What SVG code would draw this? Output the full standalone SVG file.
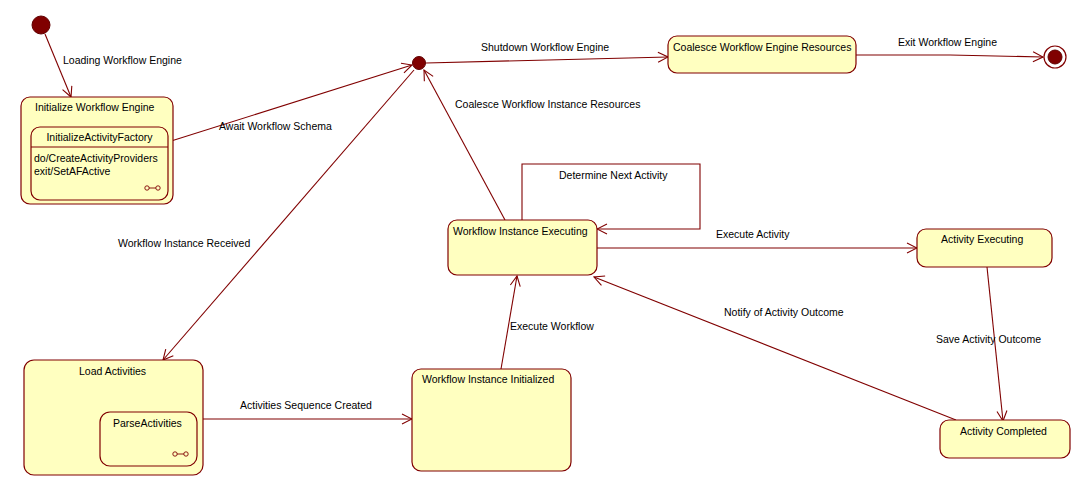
<svg xmlns="http://www.w3.org/2000/svg" width="1091" height="496" viewBox="0 0 1091 496">
<style>
.st{fill:#ffffc0;stroke:#800000;stroke-width:1.2}
.ln{fill:none;stroke:#800000;stroke-width:1.1}
.t{font-family:"Liberation Sans",Arial,sans-serif;font-size:10.5px;fill:#000}
.dot{fill:#800000;stroke:#600000;stroke-width:1}
</style>
<defs>
<marker id="a" markerWidth="12" markerHeight="12" refX="11" refY="6" orient="auto" markerUnits="userSpaceOnUse">
<path d="M1,1 L11,6 L1,11" fill="none" stroke="#800000" stroke-width="1.1"/>
</marker>
</defs>
<rect width="1091" height="496" fill="#fff"/>
<g id="connectors">
<line class="ln" x1="45" y1="34" x2="71" y2="97" marker-end="url(#a)"/>
<text class="t" x="63" y="64">Loading Workflow Engine</text>
<line class="ln" x1="168" y1="142" x2="412" y2="65" marker-end="url(#a)"/>
<text class="t" x="219" y="130">Await Workflow Schema</text>
<line class="ln" x1="426" y1="63" x2="668" y2="57" marker-end="url(#a)"/>
<text class="t" x="481" y="51">Shutdown Workflow Engine</text>
<polyline class="ln" points="856,55 950,55 1043,57" marker-end="url(#a)"/>
<text class="t" x="898" y="46">Exit Workflow Engine</text>
<line class="ln" x1="505" y1="220" x2="424" y2="70" marker-end="url(#a)"/>
<text class="t" x="455" y="108">Coalesce Workflow Instance Resources</text>
<line class="ln" x1="414" y1="70" x2="163" y2="360" marker-end="url(#a)"/>
<text class="t" x="118" y="247">Workflow Instance Received</text>
<polyline class="ln" points="522,220 522,164 700,164 700,229 597,229" marker-end="url(#a)"/>
<text class="t" x="559" y="179">Determine Next Activity</text>
<line class="ln" x1="597" y1="248" x2="917" y2="248" marker-end="url(#a)"/>
<text class="t" x="716" y="238">Execute Activity</text>
<line class="ln" x1="987" y1="267" x2="1003" y2="421" marker-end="url(#a)"/>
<text class="t" x="936" y="343">Save Activity Outcome</text>
<line class="ln" x1="956" y1="420" x2="594" y2="277" marker-end="url(#a)"/>
<text class="t" x="724" y="316">Notify of Activity Outcome</text>
<line class="ln" x1="203" y1="419" x2="412" y2="419" marker-end="url(#a)"/>
<text class="t" x="240" y="409">Activities Sequence Created</text>
<line class="ln" x1="501" y1="369" x2="517" y2="276" marker-end="url(#a)"/>
<text class="t" x="510" y="330">Execute Workflow</text>
</g>
<g id="initial">
<circle class="dot" cx="41" cy="25" r="9"/>
</g>
<g id="junction">
<circle class="dot" cx="419" cy="63" r="6.5"/>
</g>
<g id="final">
<circle cx="1055" cy="57" r="11" fill="#fff" stroke="#800000" stroke-width="1.2"/>
<circle class="dot" cx="1055" cy="57" r="7"/>
</g>
<g id="initWE">
<rect class="st" x="21" y="97" width="152" height="107" rx="9"/>
<text class="t" x="35" y="111">Initialize Workflow Engine</text>
<rect class="st" x="31" y="127" width="137" height="73" rx="9"/>
<line class="ln" x1="31" y1="147" x2="168" y2="147"/>
<text class="t" x="99.5" y="141" text-anchor="middle">InitializeActivityFactory</text>
<text class="t" x="34" y="162">do/CreateActivityProviders</text>
<text class="t" x="34" y="175">exit/SetAFActive</text>
<circle cx="147" cy="188" r="2.2" fill="none" stroke="#800000" stroke-width="0.9"/>
<circle cx="158" cy="188" r="2.2" fill="none" stroke="#800000" stroke-width="0.9"/>
<line x1="149" y1="188" x2="156" y2="188" stroke="#800000" stroke-width="0.9"/>
</g>
<g id="coalesceWE">
<rect class="st" x="668" y="36" width="188" height="37" rx="9"/>
<text class="t" x="673" y="51">Coalesce Workflow Engine Resources</text>
</g>
<g id="wiExec">
<rect class="st" x="448" y="220" width="149" height="55" rx="9"/>
<text class="t" x="453" y="235">Workflow Instance Executing</text>
</g>
<g id="actExec">
<rect class="st" x="917" y="229" width="135" height="38" rx="9"/>
<text class="t" x="941" y="243">Activity Executing</text>
</g>
<g id="actCompleted">
<rect class="st" x="940" y="420" width="130" height="38" rx="9"/>
<text class="t" x="960" y="435">Activity Completed</text>
</g>
<g id="loadAct">
<rect class="st" x="24" y="360" width="179" height="115" rx="10"/>
<text class="t" x="79" y="375">Load Activities</text>
<rect class="st" x="100" y="412" width="97" height="54" rx="10"/>
<text class="t" x="113" y="427">ParseActivities</text>
<circle cx="175" cy="454" r="2.2" fill="none" stroke="#800000" stroke-width="0.9"/>
<circle cx="186" cy="454" r="2.2" fill="none" stroke="#800000" stroke-width="0.9"/>
<line x1="177" y1="454" x2="184" y2="454" stroke="#800000" stroke-width="0.9"/>
</g>
<g id="wiInit">
<rect class="st" x="412" y="369" width="159" height="102" rx="9"/>
<text class="t" x="422" y="383">Workflow Instance Initialized</text>
</g>
</svg>
